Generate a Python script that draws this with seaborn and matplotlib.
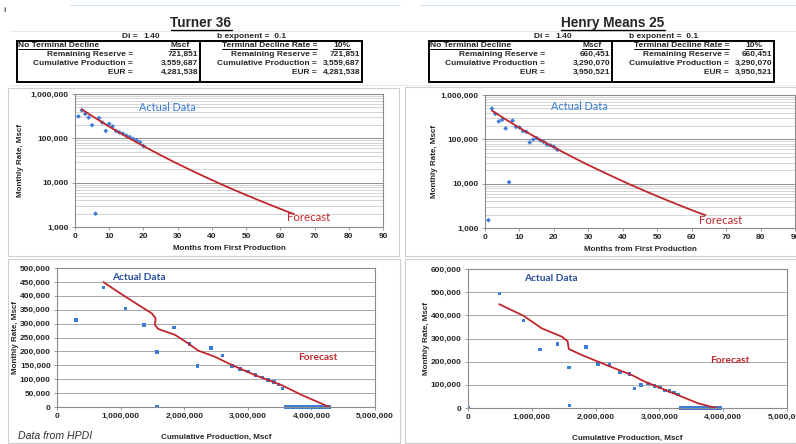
import matplotlib
matplotlib.use("Agg")
import matplotlib.pyplot as plt
import matplotlib.ticker as mticker
from matplotlib.lines import Line2D
from matplotlib.patches import Rectangle
import seaborn as sns

W, H = 796, 444

# ---- Turner 36 ----
turner_month = [1, 2, 3, 4, 5, 6, 7, 8, 9, 10, 11, 12, 13, 14, 15, 16, 17, 18, 19, 20]
turner_rate = [313000, 429000, 355000, 295000, 198000, 2000, 287000, 227000, 147000, 212000,
               186000, 147000, 136000, 127000, 115000, 107000, 97000, 90000, 82000, 67000]
turner_cum = [0.30e6, 0.73e6, 1.08e6, 1.37e6, 1.57e6, 1.57e6, 1.84e6, 2.08e6, 2.21e6, 2.42e6,
              2.60e6, 2.75e6, 2.88e6, 3.00e6, 3.12e6, 3.23e6, 3.32e6, 3.41e6, 3.48e6, 3.55e6]
turner_tail_cum = [3.60e6, 3.66e6, 3.70e6, 3.74e6, 3.78e6, 3.82e6, 3.86e6, 3.90e6, 3.94e6,
                   3.98e6, 4.02e6, 4.06e6, 4.10e6, 4.14e6, 4.18e6, 4.22e6, 4.26e6, 4.28e6]
turner_fc_month = [2, 6, 10, 14, 18, 22, 26, 30, 34, 38, 42, 46, 50, 54, 58, 62, 64]
turner_fc_rate = [450000, 285000, 184000, 121000, 81300, 55300, 38100, 26600, 18900, 13500,
                  9770, 7140, 5270, 3930, 2950, 2230, 1950]
turner_fc_cum = [0.73e6, 1.02e6, 1.28e6, 1.49e6, 1.55e6, 1.54e6, 1.59e6, 1.86e6, 2.06e6, 2.22e6,
                 2.48e6, 2.75e6, 3.11e6, 3.53e6, 3.85e6, 4.21e6, 4.28e6]
turner_fc_cumrate = [449000, 405000, 367000, 337000, 319000, 295000, 281000, 259000, 229000, 203000,
                     181000, 151000, 115000, 79000, 43000, 7000, 0]

# ---- Henry Means 25 ----
henry_month = [1, 2, 3, 4, 5, 6, 7, 8, 9, 10, 11, 12, 13, 14, 15, 16, 17, 18, 19, 20, 21]
henry_rate = [1500, 495000, 377000, 253000, 276000, 176000, 10800, 263000, 190000, 185000, 154000,
              147000, 85000, 99000, 107000, 95000, 88000, 76000, 73000, 68000, 58000]
henry_cum = [0.0, 0.49e6, 0.87e6, 1.13e6, 1.40e6, 1.58e6, 1.59e6, 1.85e6, 2.04e6, 2.22e6, 2.38e6,
             2.53e6, 2.61e6, 2.71e6, 2.82e6, 2.92e6, 3.01e6, 3.09e6, 3.16e6, 3.23e6, 3.29e6]
henry_tail_cum = [3.34e6, 3.40e6, 3.44e6, 3.48e6, 3.52e6, 3.56e6, 3.60e6, 3.64e6, 3.68e6,
                  3.72e6, 3.76e6, 3.80e6, 3.84e6, 3.88e6, 3.92e6, 3.96e6]
henry_fc_month = [2, 6, 10, 14, 18, 22, 26, 30, 34, 38, 42, 46, 50, 54, 58, 62, 64]
henry_fc_rate = [445000, 282000, 182000, 120000, 80500, 54700, 37700, 26300, 18700, 13400,
                 9670, 7070, 5220, 3890, 2920, 2210, 1950]
henry_fc_cum = [0.49e6, 0.87e6, 1.155e6, 1.47e6, 1.56e6, 1.57e6, 1.58e6, 1.78e6, 2.04e6, 2.30e6,
                2.57e6, 2.77e6, 3.09e6, 3.35e6, 3.61e6, 3.87e6, 3.90e6]
henry_fc_cumrate = [448000, 398000, 344000, 308000, 289000, 272000, 255000, 229000, 200000, 171000,
                    142000, 114000, 78000, 49000, 20000, 1000, 0]

# ---- header tables ----
row_labels = ["Remaining Reserve =", "Cumulative Production =", "EUR ="]
turner_values = ["721,851", "3,559,687", "4,281,538"]
henry_values = ["660,451", "3,290,070", "3,950,521"]

BLUE = "#3b7dd8"
DARK_BLUE = "#2a4d9b"
RED = "#c0272d"
TFS = 6.0  # table font size

sns.set_theme(style="white")
plt.rcParams["font.family"] = ["Liberation Sans", "DejaVu Sans"]

fig = plt.figure(figsize=(W / 100, H / 100), dpi=100)
fig.patch.set_facecolor("white")


def rect(l, t, r, b):
    return [l / W, 1 - b / H, (r - l) / W, (b - t) / H]


def ftext(x, y, s, **kw):
    return fig.text(x / W, 1 - y / H, s, **kw)


def fline(x0, y0, x1, y1, **kw):
    fig.add_artist(Line2D([x0 / W, x1 / W], [1 - y0 / H, 1 - y1 / H], transform=fig.transFigure, **kw))


underlined = []

# faint spreadsheet grid
for xs, xe in [(70, 400), (420, 796)]:
    fline(xs, 5, xe, 5, color="#cfe0f0", lw=0.8)
    fline(xs - 60, 31, xe, 31, color="#e3e7ec", lw=0.6)
    fline(xs - 60, 85, xe, 85, color="#e3e7ec", lw=0.6)
ftext(3, 10, "i", fontsize=6, color="#555555", fontweight="bold", va="center")


def header(off, name, values):
    t = ftext(201 + off, 23, name, fontsize=9.8, fontweight="bold", ha="center", va="center")
    underlined.append(t)
    ftext(140 + off, 36, "Di = ", fontsize=TFS, fontweight="bold", ha="right", va="center")
    ftext(143 + off, 36, "1.40", fontsize=TFS, fontweight="bold", ha="left", va="center")
    ftext(217 + off, 36, "b exponent =  0.1", fontsize=TFS, fontweight="bold", ha="left", va="center")
    fig.add_artist(Rectangle(((17 + off) / W, 1 - 82 / H), 345 / W, 41 / H, transform=fig.transFigure,
                             fill=False, edgecolor="black", lw=1.4))
    fline(200 + off, 41, 200 + off, 82, color="black", lw=1.4)
    rows_y = [45.5, 54.5, 63.5, 72.5]
    underlined.append(ftext(18 + off, rows_y[0], "No Terminal Decline", fontsize=TFS, fontweight="bold",
                            ha="left", va="center"))
    underlined.append(ftext(180 + off, rows_y[0], "Mscf", fontsize=TFS, fontweight="bold",
                            ha="center", va="center"))
    underlined.append(ftext(317 + off, rows_y[0], "Terminal Decline Rate =", fontsize=TFS, fontweight="bold",
                            ha="right", va="center"))
    underlined.append(ftext(333 + off, rows_y[0], "10%", fontsize=TFS, fontweight="bold",
                            ha="left", va="center"))
    for lab, val, y in zip(row_labels, values, rows_y[1:]):
        ftext(133 + off, y, lab, fontsize=TFS, fontweight="bold", ha="right", va="center")
        ftext(198 + off, y, val, fontsize=TFS, fontweight="bold", ha="right", va="center")
        ftext(317 + off, y, lab, fontsize=TFS, fontweight="bold", ha="right", va="center")
        ftext(360 + off, y, val, fontsize=TFS, fontweight="bold", ha="right", va="center")


header(0, "Turner 36", turner_values)
header(412, "Henry Means 25", henry_values)

# chart area frames
for l, t, r, b in [(8, 88, 399, 256), (8, 259, 400, 443), (405, 87, 796, 256), (405, 259, 796, 443)]:
    fig.add_artist(Rectangle((l / W, 1 - b / H), (r - l) / W, (b - t) / H, transform=fig.transFigure,
                             fill=False, edgecolor="#cfcfcf", lw=0.8))

comma = mticker.FuncFormatter(lambda v, _: f"{v:,.0f}")


def style(ax):
    for s in ax.spines.values():
        s.set_color("#8c8c8c")
        s.set_linewidth(0.8)
    ax.tick_params(which="major", labelsize=6, length=2.5, width=0.6, color="#8c8c8c", pad=2,
                   bottom=True, left=True)
    ax.tick_params(which="minor", length=0)
    for lbl in ax.get_xticklabels() + ax.get_yticklabels():
        lbl.set_fontweight("bold")
    ax.set_facecolor("white")


def rate_chart(box, month, rate, fc_month, fc_rate, ylab_x, act_xy, fc_xy):
    ax = fig.add_axes(rect(*box))
    sns.lineplot(x=fc_month, y=fc_rate, ax=ax, color=RED, lw=1.3, sort=False, estimator=None)
    sns.scatterplot(x=month, y=rate, ax=ax, marker="D", s=6, color=BLUE, edgecolor="none", linewidth=0)
    ax.set_yscale("log")
    ax.set_ylim(1000, 1e6)
    ax.set_xlim(0, 90)
    ax.set_xticks(range(0, 91, 10))
    ax.set_yticks([1e3, 1e4, 1e5, 1e6])
    ax.yaxis.set_major_formatter(comma)
    ax.yaxis.set_minor_locator(mticker.LogLocator(base=10, subs=range(2, 10)))
    ax.yaxis.set_minor_formatter(mticker.NullFormatter())
    ax.grid(which="major", axis="y", color="#8f8f8f", lw=0.7)
    ax.grid(which="minor", axis="y", color="#c4c4c4", lw=0.5)
    ax.set_axisbelow(True)
    style(ax)
    ax.set_xlabel("Months from First Production", fontsize=5.8, fontweight="bold")
    ax.xaxis.set_label_coords(0.5, -0.135)
    ax.set_ylabel("Monthly Rate, Mscf", fontsize=5.8, fontweight="bold")
    ax.yaxis.set_label_coords(ylab_x, 0.5)
    ax.text(*act_xy, "Actual Data", transform=ax.transAxes, color=BLUE, fontsize=7.8,
            family=["Lato", "DejaVu Sans"], ha="center", va="center")
    ax.text(*fc_xy, "Forecast", transform=ax.transAxes, color=RED, fontsize=8.2,
            family=["Lato", "DejaVu Sans"], ha="center", va="center")
    return ax


def cum_chart(box, cum, rate, tail, fc_cum, fc_rate, ymax, ystep, ylab_x, act_xy, fc_xy):
    ax = fig.add_axes(rect(*box))
    sns.lineplot(x=fc_cum, y=fc_rate, ax=ax, color=RED, lw=1.3, sort=False, estimator=None)
    sns.scatterplot(x=cum, y=rate, ax=ax, marker="s", s=6, color=BLUE, edgecolor="none", linewidth=0)
    sns.scatterplot(x=tail, y=[0] * len(tail), ax=ax, marker="s", s=7, color=BLUE, edgecolor="none",
                    linewidth=0, clip_on=False)
    ax.set_xlim(0, 5e6)
    ax.set_ylim(0, ymax)
    ax.set_xticks([0, 1e6, 2e6, 3e6, 4e6, 5e6])
    ax.set_yticks(range(0, ymax + 1, ystep))
    ax.xaxis.set_major_formatter(comma)
    ax.yaxis.set_major_formatter(comma)
    ax.grid(axis="y", color="#9a9a9a", lw=0.6)
    ax.set_axisbelow(True)
    style(ax)
    ax.set_xlabel("Cumulative Production, Mscf", fontsize=5.8, fontweight="bold")
    ax.xaxis.set_label_coords(0.5, -0.195)
    ax.set_ylabel("Monthly Rate, Mscf", fontsize=5.8, fontweight="bold")
    ax.yaxis.set_label_coords(ylab_x, 0.5)
    ax.text(*act_xy, "Actual Data", transform=ax.transAxes, color=DARK_BLUE, fontsize=7.3,
            fontweight="bold", family=["Lato", "DejaVu Sans"], ha="center", va="center")
    ax.text(*fc_xy, "Forecast", transform=ax.transAxes, color=RED, fontsize=7.3,
            fontweight="bold", family=["Lato", "DejaVu Sans"], ha="center", va="center")
    return ax


rate_chart((75, 94, 383, 227), turner_month, turner_rate, turner_fc_month, turner_fc_rate,
           -0.165, (0.30, 0.90), (0.76, 0.068))
rate_chart((485, 95, 795, 228), henry_month, henry_rate, henry_fc_month, henry_fc_rate,
           -0.15, (0.306, 0.91), (0.761, 0.06))
cum_chart((57, 268, 375, 407), turner_cum, turner_rate, turner_tail_cum, turner_fc_cum, turner_fc_cumrate,
          500000, 50000, -0.12, (0.258, 0.935), (0.819, 0.353))
cum_chart((468, 269, 787, 408), henry_cum, henry_rate, henry_tail_cum, henry_fc_cum, henry_fc_cumrate,
          600000, 100000, -0.12, (0.259, 0.935), (0.821, 0.345))

ftext(18, 436, "Data from HPDI", fontsize=7.6, style="italic", color="#333333", ha="left", va="center")

# underline the header texts
fig.canvas.draw()
for t in underlined:
    bb = t.get_window_extent()
    y = bb.y0 + 0.3
    fig.add_artist(Line2D([bb.x0 / W, bb.x1 / W], [y / H, y / H], transform=fig.transFigure,
                          color="black", lw=0.7 if t.get_fontsize() < 8 else 1.0))

fig.savefig("out.png", dpi=100)
